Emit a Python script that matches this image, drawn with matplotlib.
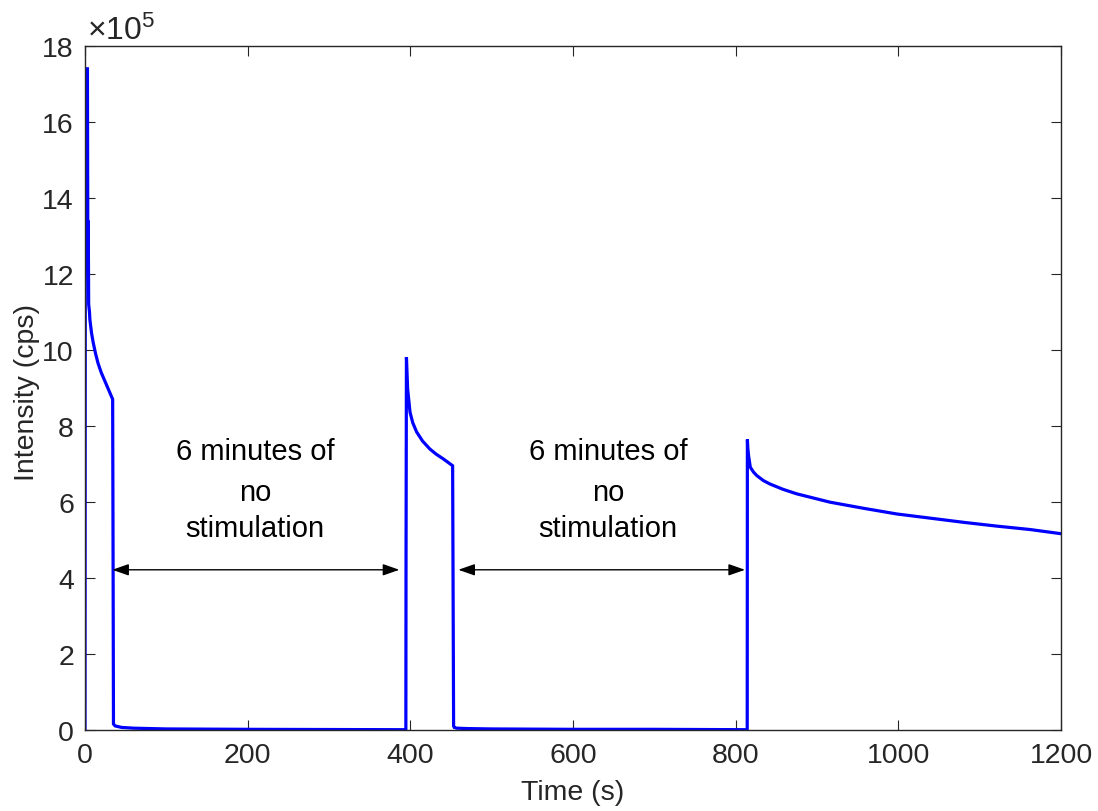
import matplotlib
matplotlib.use("Agg")
import matplotlib.pyplot as plt

plt.rcParams['font.family'] = ['Liberation Sans', 'DejaVu Sans']
plt.rcParams['mathtext.fontset'] = 'custom'
plt.rcParams['mathtext.rm'] = 'Liberation Sans'
plt.rcParams['mathtext.it'] = 'Liberation Sans:italic'

# ---- data (intensity in units of 1e5 cps) ----
time_s = [0, 0.5, 3, 3.5, 4.0, 4.5, 5.5, 6, 8, 10, 13, 16, 20, 25, 30, 34,
          34.5, 35, 37, 45, 60, 100, 200, 300, 394.5,
          394.7, 395.2, 396.7, 399.6, 403, 407.7, 415, 424, 432, 440.5, 452,
          453.2, 454, 457, 470, 500, 600, 700, 814.2,
          814.4, 815.0, 815.9, 818, 822, 826, 834, 842, 858, 875, 916, 957,
          998, 1039, 1080, 1121, 1162, 1200]
intensity_e5 = [0, 17.4, 17.4, 12.4, 13.4, 11.2, 11.0, 10.8, 10.45, 10.2, 9.9, 9.65, 9.4, 9.15, 8.9, 8.7,
                4.7, 0.15, 0.1, 0.06, 0.04, 0.02, 0.01, 0.005, 0.0,
                4.4, 9.81, 8.97, 8.36, 8.08, 7.84, 7.6, 7.39, 7.25, 7.13, 6.95,
                0.1, 0.06, 0.04, 0.03, 0.02, 0.01, 0.01, 0.0,
                7.64, 7.4, 7.21, 6.91, 6.78, 6.69, 6.56, 6.47, 6.33, 6.21, 5.99, 5.83,
                5.68, 5.57, 5.46, 5.36, 5.27, 5.16]

arrow_y = 4.21
arrow_spans = [(33.5, 386.5), (459, 811.5)]
label_x = [209, 643]
label_lines = ["6 minutes of", "no", "stimulation"]
label_y = [7.33, 6.27, 5.32]

xticks = [0, 200, 400, 600, 800, 1000, 1200]
yticks = [0, 2, 4, 6, 8, 10, 12, 14, 16, 18]

# ---- figure ----
fig = plt.figure(figsize=(10.98, 8.12), dpi=100)
ax = fig.add_axes([85/1098, 1 - 730.7/812, (1061-85)/1098, (730.7-47)/812])

ax.plot(time_s, intensity_e5, color=(0, 0, 1), lw=2.3, solid_joinstyle='miter')

for (x0, x1) in arrow_spans:
    ax.annotate('', xy=(x1, arrow_y), xytext=(x0, arrow_y),
                arrowprops=dict(arrowstyle='<|-|>,head_length=1.0,head_width=0.35',
                                color='black', lw=1.0, shrinkA=0, shrinkB=0))

for lx in label_x:
    for txt, ly in zip(label_lines, label_y):
        ax.text(lx, ly, txt, ha='center', va='center', fontsize=21, color='black')

ax.set_xlim(0, 1200)
ax.set_ylim(0, 18)
ax.set_xticks(xticks)
ax.set_yticks(yticks)
ax.set_xticklabels([str(v) for v in xticks])
ax.set_yticklabels([str(v) for v in yticks])

grey = (0.15, 0.15, 0.15)
for sp in ax.spines.values():
    sp.set_color(grey)
    sp.set_linewidth(1.0)
ax.tick_params(direction='in', length=7, width=0.8, colors=grey, labelsize=20.5,
               top=True, right=True, pad=8)
ax.tick_params(axis='x', pad=9)

ax.set_xlabel('Time (s)', fontsize=20.5, color=grey, labelpad=8)
ax.set_ylabel('Intensity (cps)', fontsize=20.5, color=grey)
ax.yaxis.set_label_coords((27 - 85) / 976, (730.7 - 393) / 683.7)
ax.yaxis.label.set_va('center')

fig.text(87/1098, 1 - 40/812, r'$\times10^{5}$', fontsize=23, color=grey,
         ha='left', va='baseline')

fig.savefig('out.png', dpi=100)
